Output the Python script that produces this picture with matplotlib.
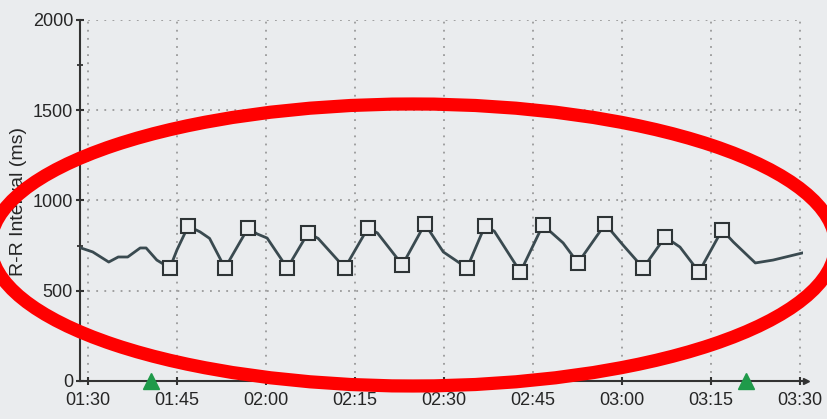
import matplotlib.pyplot as plt
from matplotlib.patches import Ellipse
from matplotlib.ticker import FuncFormatter, MultipleLocator

plt.rcParams["font.family"] = ["Liberation Sans", "DejaVu Sans"]

# R-R interval trace, time in seconds
t_rr = [88.8, 90.8, 93.5, 95.1, 96.7, 98.8, 99.8, 101.6, 103.8, 105.0,
        106.9, 108.9, 110.5, 113.1, 117.0, 118.5, 120.2, 123.6, 127.1, 128.8,
        133.3, 137.2, 138.8, 143.0, 146.8, 149.9, 153.9, 156.9, 158.5, 162.9,
        166.7, 170.1, 172.6, 177.2, 180.2, 183.6, 187.3, 189.8, 193.0, 196.9,
        198.8, 202.5, 205.5, 210.4]
rr = [737, 715, 659, 687, 687, 737, 737, 670, 626, 726,
      858, 826, 790, 626, 848, 815, 792, 626, 820, 790,
      626, 848, 820, 643, 870, 715, 626, 858, 830, 604,
      864, 765, 654, 870, 753, 626, 798, 742, 604, 837,
      770, 654, 670, 709]
# points drawn with a square
mark_idx = [8, 10, 13, 14, 17, 18, 20, 21, 23, 24, 26, 27, 29, 30,
            32, 33, 35, 36, 38, 39]
events = [100.7, 201.0]

ticks = [90, 105, 120, 135, 150, 165, 180, 195, 210]

bg = "#eaecee"
txt = "#262626"
fig = plt.figure(figsize=(8.27, 4.19), dpi=100, facecolor=bg)
ax = fig.add_axes([0.0967, 0.0907, 0.874, 0.8616], facecolor=bg)

ax.plot(t_rr, rr, color="#3a4a50", lw=2, zorder=3)
ax.plot([t_rr[i] for i in mark_idx], [rr[i] for i in mark_idx], "s",
        ms=9.5, mfc=bg, mec="#2e3436", mew=1.5, zorder=4)
ax.plot(events, [0] * len(events), "^", color="#1f9a4a", ms=12,
        clip_on=False, zorder=5)

ax.set_xlim(88.65, 210.5)
ax.set_ylim(0, 2000)
ax.set_xticks(ticks)
ax.xaxis.set_major_formatter(FuncFormatter(lambda v, p: "%02d:%02d" % (v // 60, v % 60)))
ax.yaxis.set_major_locator(MultipleLocator(500))
ax.yaxis.set_minor_locator(MultipleLocator(250))

ax.grid(True, color="#9a9a9a", ls=(0, (1, 3.5)), lw=1.3)
for s in ["top", "right"]:
    ax.spines[s].set_visible(False)
for s in ["left", "bottom"]:
    ax.spines[s].set_color("#333333")
    ax.spines[s].set_linewidth(1.5)
ax.tick_params(direction="inout", length=6, width=1.5, colors="#333333",
               labelsize=13, labelcolor=txt)
ax.tick_params(axis="y", which="minor", direction="inout", length=5, width=1.3,
               colors="#333333")
ax.tick_params(axis="y", pad=2)
ax.tick_params(axis="x", pad=5)
ax.plot([1.004], [0], ">", color="#333333", ms=5, transform=ax.get_yaxis_transform(),
        clip_on=False)

fig.text(0.022, 0.52, "R-R Interval (ms)", rotation=90, ha="center", va="center",
         fontsize=14, color=txt)

# red annotation ellipse
fig.add_artist(Ellipse((413 / 827, 174 / 419), 845 / 827, 282 / 419,
                       transform=fig.transFigure, fill=False, ec="#ff0000",
                       lw=9.5, zorder=10))

fig.savefig("out.png", dpi=100, facecolor=bg)
